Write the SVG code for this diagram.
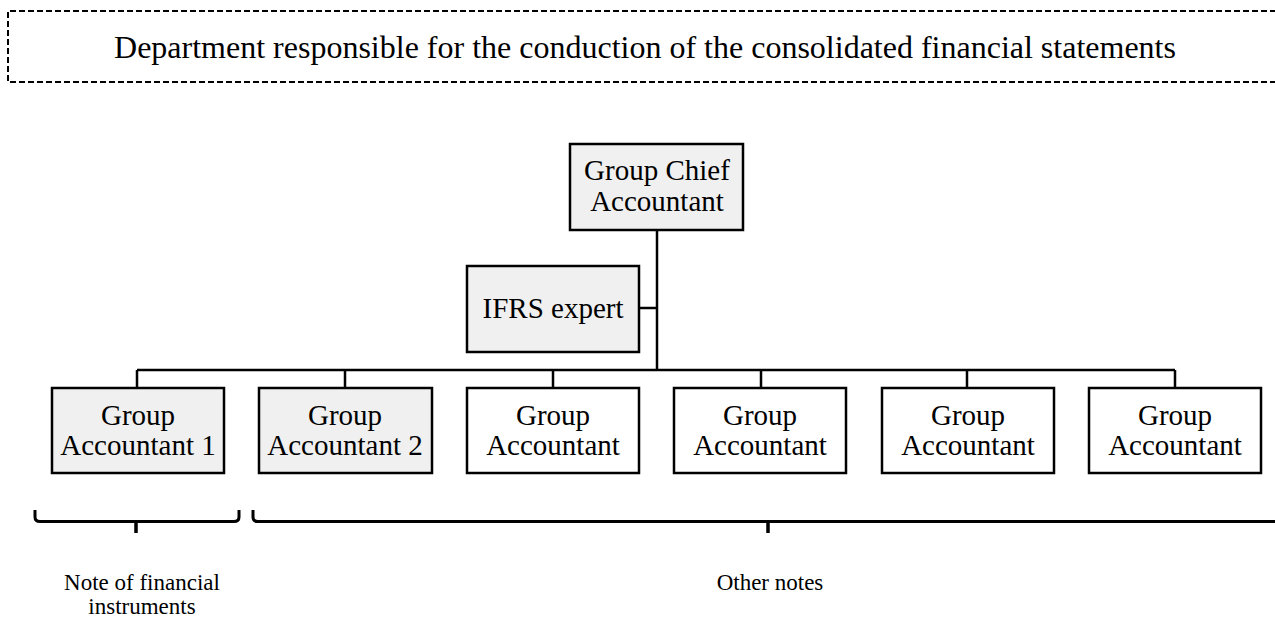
<svg xmlns="http://www.w3.org/2000/svg" width="1275" height="619" viewBox="0 0 1275 619">
<style>
text{font-family:"Liberation Serif","Times New Roman",serif;fill:#000;text-anchor:middle}
.box{stroke:#000;stroke-width:2.5}
.g{fill:#f0f0f0}
.w{fill:#fff}
.t{font-size:29px}
.s{font-size:23px}
.ln{stroke:#000;stroke-width:2.5;fill:none}
.br{stroke:#000;stroke-width:3;fill:none}
</style>
<rect width="1275" height="619" fill="#fff"/>
<g id="department">
<path d="M1285 11 H8 V82 H1285" fill="none" stroke="#000" stroke-width="2" stroke-dasharray="6,3"/>
<text x="645" y="58" font-size="32">Department responsible for the conduction of the consolidated financial statements</text>
</g>
<g id="connectors">
<path class="ln" d="M657 230 V370"/>
<path class="ln" d="M639 308 H657"/>
<path class="ln" d="M137 370 H1175"/>
<path class="ln" d="M137 370 V388 M345 370 V388 M553 370 V388 M761 370 V388 M967 370 V388 M1175 370 V388"/>
</g>
<g id="chief">
<rect class="box g" x="570" y="144" width="173" height="86"/>
<text class="t" x="657" y="180">Group Chief</text>
<text class="t" x="657" y="211">Accountant</text>
</g>
<g id="ifrs">
<rect class="box g" x="467" y="266" width="172" height="86"/>
<text class="t" x="553" y="318">IFRS expert</text>
</g>
<g id="ga1">
<rect class="box g" x="52" y="388" width="172" height="85"/>
<text class="t" x="138" y="425">Group</text>
<text class="t" x="138" y="455">Accountant 1</text>
</g>
<g id="ga2">
<rect class="box g" x="259" y="388" width="173" height="85"/>
<text class="t" x="345" y="425">Group</text>
<text class="t" x="345" y="455">Accountant 2</text>
</g>
<g id="ga3">
<rect class="box w" x="467" y="388" width="172" height="85"/>
<text class="t" x="553" y="425">Group</text>
<text class="t" x="553" y="455">Accountant</text>
</g>
<g id="ga4">
<rect class="box w" x="674" y="388" width="172" height="85"/>
<text class="t" x="760" y="425">Group</text>
<text class="t" x="760" y="455">Accountant</text>
</g>
<g id="ga5">
<rect class="box w" x="882" y="388" width="172" height="85"/>
<text class="t" x="968" y="425">Group</text>
<text class="t" x="968" y="455">Accountant</text>
</g>
<g id="ga6">
<rect class="box w" x="1089" y="388" width="172" height="85"/>
<text class="t" x="1175" y="425">Group</text>
<text class="t" x="1175" y="455">Accountant</text>
</g>
<g id="brace1">
<path class="br" d="M35 510 V517 Q35 521.5 40 521.5 H234 Q239 521.5 239 517 V510"/>
<path d="M136 521 V533" stroke="#000" stroke-width="3.5"/>
<text class="s" x="142" y="590">Note of financial</text>
<text class="s" x="142" y="614">instruments</text>
</g>
<g id="brace2">
<path class="br" d="M253 510 V517 Q253 521.5 258 521.5 H1280"/>
<path d="M768 521 V533" stroke="#000" stroke-width="3.5"/>
<text class="s" x="770" y="590">Other notes</text>
</g>
</svg>
